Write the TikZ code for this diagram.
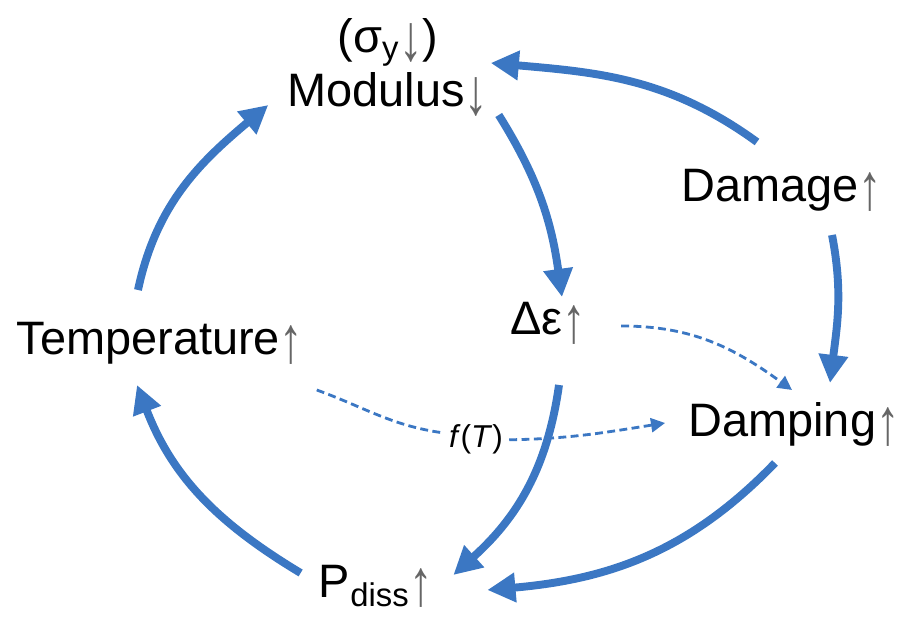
\documentclass[tikz,border=0pt]{standalone}
\usepackage{fontspec}
\setmainfont{Liberation Sans}
\usepackage{xcolor}
\usepackage{graphicx}
\usetikzlibrary{arrows.meta}
\definecolor{loopblue}{RGB}{59,119,195}
\newcommand{\arrup}{\textcolor{black!60}{\raisebox{-4.5pt}[\height][0pt]{\scalebox{1}[1.4]{↑}}}}
\newcommand{\arrdn}{\textcolor{black!60}{\raisebox{-4.5pt}[\height][0pt]{\scalebox{1}[1.4]{↓}}}}
\tikzset{
  lbl/.style   = {inner sep=0pt, anchor=base,
                  font=\fontsize{26.7}{30}\selectfont},
  flbl/.style  = {inner ysep=0pt, inner xsep=1.2mm, anchor=base,
                  font=\fontsize{18}{20}\selectfont},
  arr/.style   = {-{Triangle[length=16pt,width=16pt]}, line width=4.5pt,
                  loopblue},
  darr/.style  = {-{Triangle[length=8pt,width=8pt]}, line width=1.6pt,
                  loopblue, dash pattern=on 4.5pt off 2.5pt},
  dline/.style = {line width=1.6pt, loopblue, dash pattern=on 4.5pt off 2.5pt},
}

\begin{document}
\begin{tikzpicture}[x=0.02cm, y=0.02cm]
\useasboundingbox (0,0) rectangle (906,617);

%% -- Quantities --------------------------------------------------------
\node[lbl] (sig)   at (388,564) {(σ\textsubscript{y}\arrdn)};
\node[lbl] (mod)   at (388,510) {Modulus\arrdn};
\node[lbl] (dam)   at (782,415) {Damage\arrup};
\node[lbl] (eps)   at (548,282) {Δε\arrup};
\node[lbl] (temp)  at (160,262) {Temperature\arrup};
\node[lbl] (damp)  at (794,180) {Damping\arrup};
\node[lbl] (pdiss) at (376,19)  {P\textsubscript{diss}\arrup};
\node[flbl] (fT)   at (476,169) {\textit{f}(\textit{T})};

%% -- Weak couplings (dashed) -------------------------------------------
\draw[darr] ([shift={(35,9)}]eps.base east) to[out=0,in=144]
            ([shift={(-2,47)}]damp.base);
\draw[dline] ([shift={(13,-35)}]temp.base east) to[out=-20,in=172]
             ([shift={(0,7)}]fT.west);
\draw[darr] (fT.east) to[out=1,in=189] ([shift={(-23,14)}]damp.base west);

%% -- Main loop ---------------------------------------------------------
\draw[arr] ([shift={(-22,65)}]temp.base) to[out=78,in=220]
           ([shift={(-19,2)}]mod.base west);
\draw[arr] ([shift={(10,-8)}]mod.base east) to[out=-58,in=98]
           ([shift={(14,38)}]eps.base);
\draw[arr] ([shift={(-25,60)}]dam.base) to[out=144,in=-5]
           ([shift={(2,44)}]mod.base east);
\draw[arr] ([shift={(50,-33)}]dam.base) to[out=-79,in=83]
           ([shift={(36,54)}]damp.base);
\draw[arr] ([shift={(11,-50)}]eps.base) to[out=-98,in=42]
           ([shift={(20,23)}]pdiss.base east);
\draw[arr] ([shift={(-19,-26)}]damp.base) to[out=226,in=5]
           ([shift={(54,8)}]pdiss.base east);
\draw[arr] ([shift={(-18,25)}]pdiss.base west) to[out=149,in=-69]
           ([shift={(-23,-30)}]temp.base);

\end{tikzpicture}
\end{document}
